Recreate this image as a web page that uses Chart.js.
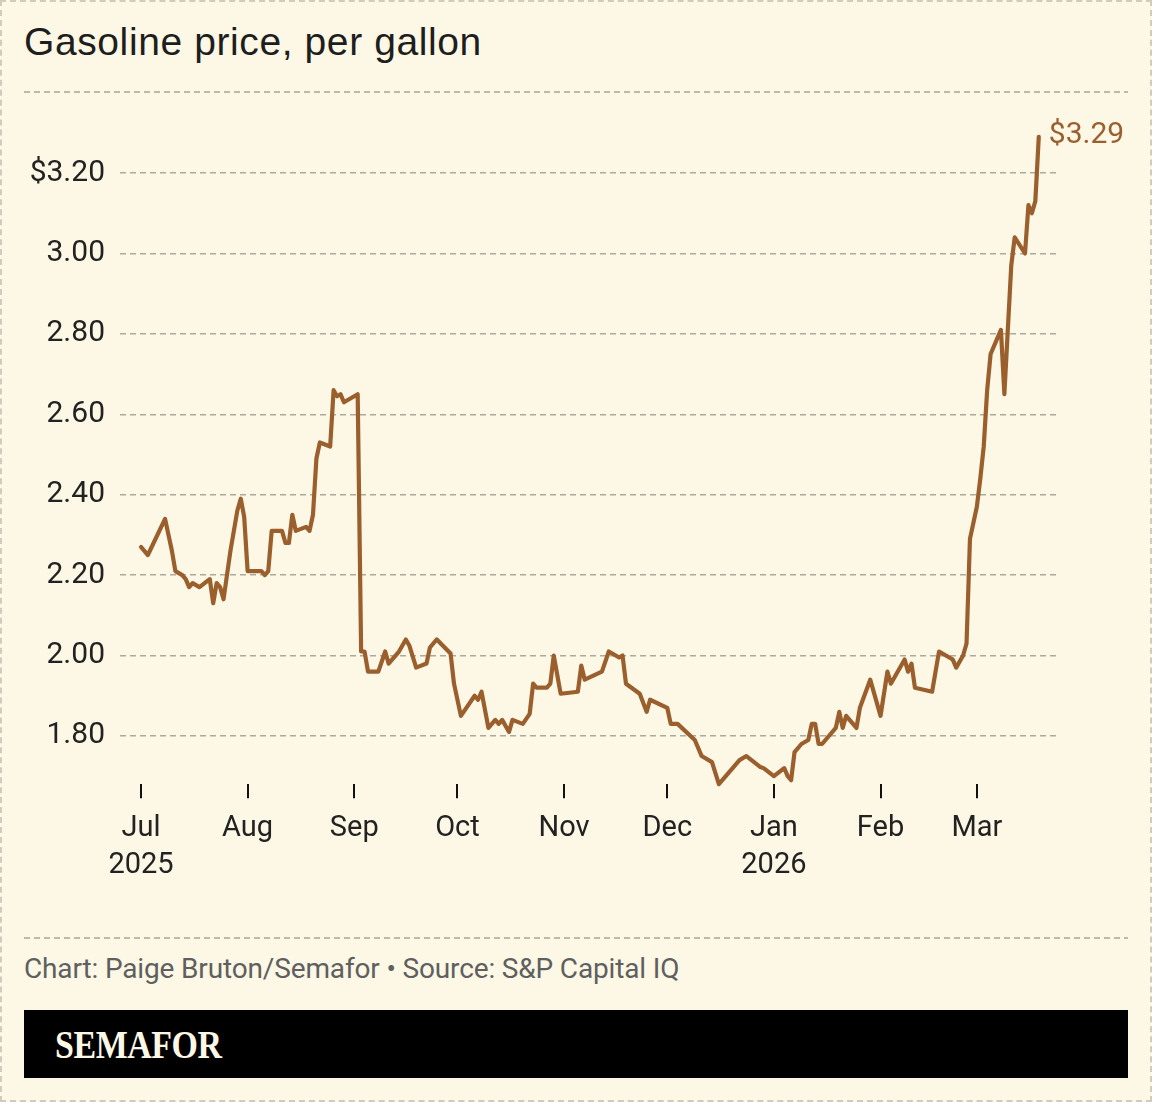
<!DOCTYPE html>
<html>
<head>
<meta charset="utf-8">
<script src="https://cdn.jsdelivr.net/npm/chart.js@4.4.1/dist/chart.umd.min.js"></script>
<style>
  html, body { margin: 0; padding: 0; }
  body { width: 1152px; height: 1102px; background: #fcf8e5; position: relative; overflow: hidden; font-family: "Liberation Sans", Arial, sans-serif; }
  .frame { position: absolute; left: 0; top: 0; width: 1148px; height: 1098px; border: 2px dashed #cfcbbd; }
  .title { position: absolute; left: 24px; top: 22px; font-size: 39px; line-height: 1; letter-spacing: 0.6px; color: #1e1e1e; }
  .rule { position: absolute; left: 24px; width: 1104px; height: 1.5px;
          background: repeating-linear-gradient(90deg, #bdb9ad 0 6px, transparent 6px 10px); }
  #wrap { position: absolute; left: 0; top: 0; width: 1152px; height: 900px; }
  .source { position: absolute; left: 24px; top: 952px; font-family: "Roboto", sans-serif; font-size: 28px; letter-spacing: -0.15px; color: #5f5f5f; }
  .bar { position: absolute; left: 24px; top: 1010px; width: 1104px; height: 68px; background: #000; }
  .logo { position: absolute; left: 31px; top: 12px; font-family: "Liberation Serif", serif; font-weight: bold; font-size: 39px; color: #fcf8e5; transform: scaleX(0.87); transform-origin: left center; letter-spacing: -0.5px; }
</style>
</head>
<body>
<div class="frame"></div>
<div class="title">Gasoline price, per gallon</div>
<div class="rule" style="top:91px"></div>
<div id="wrap"><canvas id="chart"></canvas></div>
<div class="rule" style="top:937px"></div>
<div class="source">Chart: Paige Bruton/Semafor • Source: S&amp;P Capital IQ</div>
<div class="bar"><div class="logo">SEMAFOR</div></div>
<script>
const dates = [
  '2025-07-01','2025-07-03','2025-07-08','2025-07-10','2025-07-11','2025-07-13','2025-07-14','2025-07-15',
  '2025-07-16','2025-07-18','2025-07-21','2025-07-22','2025-07-23','2025-07-24','2025-07-25','2025-07-27',
  '2025-07-29','2025-07-30','2025-07-31','2025-08-01','2025-08-05','2025-08-06','2025-08-07','2025-08-08',
  '2025-08-11','2025-08-12','2025-08-13','2025-08-14','2025-08-15','2025-08-18','2025-08-19','2025-08-20',
  '2025-08-21','2025-08-22','2025-08-25','2025-08-26','2025-08-27','2025-08-28','2025-08-29','2025-09-02',
  '2025-09-03','2025-09-04','2025-09-05','2025-09-08','2025-09-10','2025-09-11','2025-09-14','2025-09-16',
  '2025-09-17','2025-09-19','2025-09-22','2025-09-23','2025-09-25','2025-09-29','2025-09-30','2025-10-02',
  '2025-10-06','2025-10-07','2025-10-08','2025-10-10','2025-10-12','2025-10-13','2025-10-14','2025-10-16',
  '2025-10-17','2025-10-20','2025-10-22','2025-10-23','2025-10-24','2025-10-27','2025-10-28','2025-10-29',
  '2025-10-31','2025-11-05','2025-11-06','2025-11-07','2025-11-12','2025-11-14','2025-11-17','2025-11-18',
  '2025-11-19','2025-11-23','2025-11-25','2025-11-26','2025-12-01','2025-12-02','2025-12-04','2025-12-09',
  '2025-12-11','2025-12-14','2025-12-16','2025-12-22','2025-12-24','2025-12-28','2025-12-29','2026-01-01',
  '2026-01-04','2026-01-05','2026-01-06','2026-01-07','2026-01-09','2026-01-11','2026-01-12','2026-01-13',
  '2026-01-14','2026-01-15','2026-01-19','2026-01-20','2026-01-21','2026-01-22','2026-01-25','2026-01-26',
  '2026-01-29','2026-02-01','2026-02-03','2026-02-04','2026-02-08','2026-02-09','2026-02-10','2026-02-11',
  '2026-02-16','2026-02-18','2026-02-20','2026-02-22','2026-02-23','2026-02-25','2026-02-26','2026-02-27',
  '2026-03-01','2026-03-02','2026-03-03','2026-03-04','2026-03-05','2026-03-08','2026-03-09','2026-03-11',
  '2026-03-12','2026-03-15','2026-03-16','2026-03-17','2026-03-18','2026-03-19'
];
const prices = [
  2.27, 2.25, 2.34, 2.26, 2.21, 2.20, 2.19, 2.17,
  2.18, 2.17, 2.19, 2.13, 2.18, 2.17, 2.14, 2.26,
  2.36, 2.39, 2.345, 2.21, 2.21, 2.20, 2.21, 2.31,
  2.31, 2.28, 2.28, 2.35, 2.31, 2.32, 2.31, 2.35,
  2.49, 2.53, 2.52, 2.66, 2.645, 2.65, 2.63, 2.65,
  2.01, 2.01, 1.96, 1.96, 2.01, 1.98, 2.01, 2.04,
  2.025, 1.97, 1.98, 2.02, 2.04, 2.005, 1.93, 1.85,
  1.90, 1.89, 1.91, 1.82, 1.84, 1.83, 1.84, 1.81,
  1.84, 1.83, 1.855, 1.93, 1.92, 1.92, 1.93, 2.00,
  1.905, 1.91, 1.975, 1.94, 1.96, 2.01, 1.995, 2.00,
  1.93, 1.905, 1.86, 1.89, 1.87, 1.83, 1.83, 1.79,
  1.75, 1.735, 1.68, 1.74, 1.75, 1.723, 1.72, 1.70,
  1.72, 1.70, 1.69, 1.76, 1.78, 1.79, 1.83, 1.83,
  1.78, 1.78, 1.82, 1.86, 1.82, 1.85, 1.82, 1.87,
  1.94, 1.85, 1.96, 1.93, 1.99, 1.96, 1.98, 1.92,
  1.91, 2.01, 2.00, 1.99, 1.97, 2.00, 2.03, 2.29,
  2.37, 2.44, 2.52, 2.66, 2.75, 2.81, 2.65, 2.97,
  3.04, 3.00, 3.12, 3.10, 3.13, 3.29
];
const monthTicks = ['2025-07-01','2025-08-01','2025-09-01','2025-10-01','2025-11-01','2025-12-01','2026-01-01','2026-02-01','2026-03-01'];
const monthLabels = [['Jul','2025'],'Aug','Sep','Oct','Nov','Dec',['Jan','2026'],'Feb','Mar'];
const yTicks = [1.8, 2.0, 2.2, 2.4, 2.6, 2.8, 3.0, 3.2];

const lineColor = '#9a5f2d';
const dayOf = s => (Date.parse(s) - Date.parse(dates[0])) / 86400000;

// price label at the last point
const endLabel = {
  id: 'endLabel',
  afterDatasetsDraw(chart) {
    const x = chart.scales.x, y = chart.scales.y;
    const i = prices.length - 1;
    const ctx = chart.ctx;
    ctx.save();
    ctx.font = '30px Roboto';
    ctx.fillStyle = lineColor;
    ctx.textBaseline = 'middle';
    ctx.fillText('$' + prices[i].toFixed(2), x.getPixelForValue(dayOf(dates[i])) + 10, y.getPixelForValue(prices[i]) - 1);
    ctx.restore();
  }
};

new Chart(document.getElementById('chart'), {
  type: 'line',
  data: {
    datasets: [{
      data: dates.map((d, i) => ({ x: dayOf(d), y: prices[i] })),
      borderColor: lineColor,
      borderWidth: 4.2,
      pointRadius: 0,
      tension: 0,
      borderJoinStyle: 'round',
      borderCapStyle: 'round',
      clip: false
    }]
  },
  options: {
    responsive: true,
    maintainAspectRatio: false,
    animation: false,
    layout: { padding: { top: 124.8, right: 95, bottom: 15.8, left: 0 } },
    plugins: { legend: { display: false }, tooltip: { enabled: false } },
    scales: {
      x: {
        type: 'linear',
        min: -6.1,
        max: 266.3,
        afterBuildTicks: s => { s.ticks = monthTicks.map(d => ({ value: dayOf(d) })); },
        afterFit: s => { s.height = 100; },
        border: { display: false },
        grid: { drawOnChartArea: false, drawTicks: true, tickLength: 14, color: '#111', lineWidth: 2 },
        ticks: {
          padding: 12,
          maxRotation: 0,
          autoSkip: false,
          color: '#222',
          font: { family: 'Roboto', size: 29, lineHeight: 1.27 },
          callback: (v, i) => monthLabels[i]
        }
      },
      y: {
        min: 1.68,
        max: 3.32,
        afterBuildTicks: s => { s.ticks = yTicks.map(v => ({ value: v })); },
        afterFit: s => { s.width = 120; },
        border: { display: false, dash: [6, 4] },
        grid: { drawTicks: false, color: '#aca99e', lineWidth: 1.5 },
        ticks: {
          padding: 15,
          color: '#222',
          font: { family: 'Roboto', size: 30 },
          callback: (v, i, t) => (i === t.length - 1 ? '$' : '') + v.toFixed(2)
        }
      }
    }
  },
  plugins: [endLabel]
});
</script>
</body>
</html>
